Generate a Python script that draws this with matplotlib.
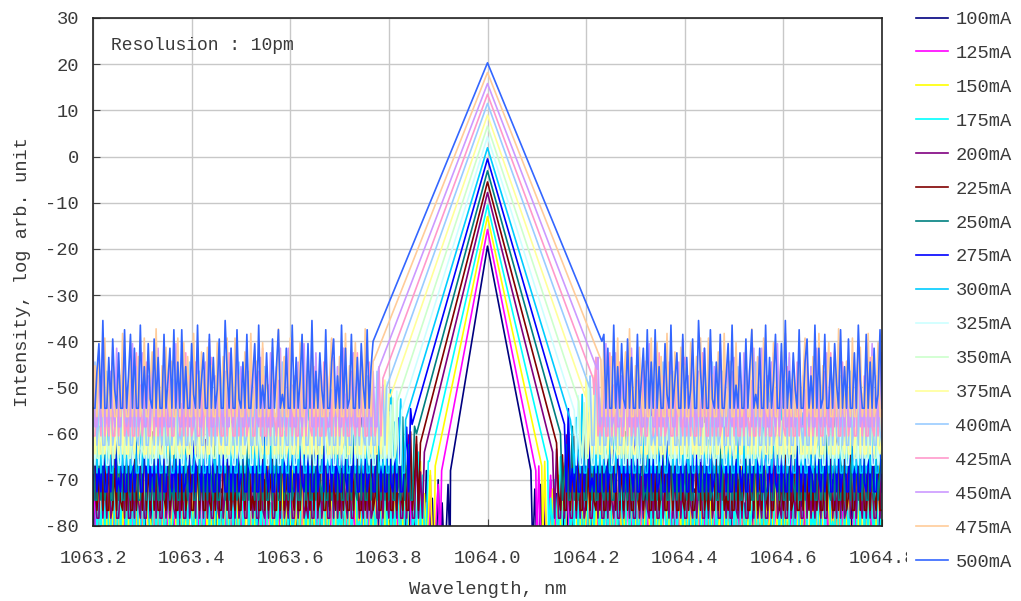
import numpy as np
import matplotlib
matplotlib.use("Agg")
import matplotlib.pyplot as plt
from matplotlib.patches import Rectangle

# ── Data ──────────────────────────────────────────────

currents = ["100mA", "125mA", "150mA", "175mA", "200mA", "225mA", "250mA", "275mA",
            "300mA", "325mA", "350mA", "375mA", "400mA", "425mA", "450mA", "475mA", "500mA"]
colors = ["#000080", "#ff00ff", "#ffff00", "#00ffff", "#800080", "#800000", "#008080", "#0000ff",
          "#00ccff", "#ccffff", "#ccffcc", "#ffff99", "#99ccff", "#ff99cc", "#cc99ff", "#ffcc99", "#3366ff"]

peak_nm = 1064.0
peak_db = [-19.4, -15.8, -13.0, -10.5, -7.8, -5.5, -3.1, -0.5,
           1.9, 4.3, 6.6, 9.0, 11.5, 13.5, 15.8, 18.2, 20.3]
# where each peak side meets the noise
left_nm = [1063.925, 1063.907, 1063.894, 1063.882, 1063.872, 1063.864, 1063.856, 1063.847,
           1063.834, 1063.826, 1063.817, 1063.803, 1063.795, 1063.788, 1063.779, 1063.770, 1063.768]
right_nm = [1064.088, 1064.098, 1064.110, 1064.122, 1064.132, 1064.140, 1064.148, 1064.156,
            1064.168, 1064.176, 1064.185, 1064.199, 1064.207, 1064.214, 1064.222, 1064.230, 1064.232]
foot_db = [-68, -68, -67, -66, -64, -62, -60, -58,
           -57, -55, -53, -52, -50, -48, -46, -44, -40]
# noise floor of each trace (lowest ones sit below the axis)
floor_db = [-86, -85, -84, -82, -78.3, -76.6, -74.4, -72.6,
            -68.5, -66.8, -65.3, -64.4, -62.5, -60.5, -58.5, -56.3, -54.5]

# noise spikes above the floor, dB
spike_pattern = [
    0, 17, 0, 9, 0, 0, 14, 3, 0, 18, 0, 6, 12, 0, 0, 16, 0, 11, 0, 4,
    15, 0, 0, 19, 8, 0, 13, 0, 0, 17, 2, 0, 10, 0, 16, 0, 0, 7, 14, 0,
    18, 0, 5, 0, 12, 0, 0, 15, 0, 9, 17, 0, 3, 0, 13, 0, 0, 18, 0, 11,
    0, 6, 16, 0, 0, 14, 0, 19, 0, 8, 0, 12, 4, 0, 17, 0, 0, 10, 15, 0,
    7, 0, 18, 0, 13, 0, 2, 16, 0, 0, 11, 0, 14, 5, 0, 17, 0, 9, 0, 15,
    0, 0, 12, 0, 18, 6, 0, 0, 16, 0, 10, 0, 13, 0, 3, 17, 0, 0, 8, 14,
    0, 19, 0, 0, 11, 0, 15, 4, 0, 12, 0, 0, 17, 0, 7, 16, 0, 13, 0, 0,
    18, 0, 9, 0, 14, 2, 0, 15, 0, 11, 0, 0, 16, 0, 6, 13, 0, 17, 0, 10,
]
pattern_shift = [0, 23, 51, 77, 104, 131, 12, 39, 66, 93, 120, 147, 8, 35, 62, 89, 116]

xticks = [1063.2, 1063.4, 1063.6, 1063.8, 1064.0, 1064.2, 1064.4, 1064.6, 1064.8]
yticks = [-80, -70, -60, -50, -40, -30, -20, -10, 0, 10, 20, 30]

# ── Style ──────────────────────────────────────────────

FONT = "Liberation Mono"
FS = 13.5
TXT = "#3a3a3a"
plt.rcParams.update({
    "font.family": FONT,
    "font.size": FS,
    "axes.unicode_minus": False,
    "text.color": TXT,
    "axes.labelcolor": TXT,
    "xtick.color": TXT,
    "ytick.color": TXT,
})

fig = plt.figure(figsize=(10.21, 6.01), dpi=100)
ax = fig.add_axes([93 / 1021, 75 / 601, 789 / 1021, 508 / 601])

wl_grid = np.round(1063.2 + 0.004 * np.arange(401), 3)
idx = np.arange(len(wl_grid))
pat = np.array(spike_pattern, dtype=float)

for i, name in enumerate(currents):
    lm = wl_grid < left_nm[i]
    rm = wl_grid > right_nm[i]
    yl = floor_db[i] + pat[(idx[lm] + pattern_shift[i]) % len(pat)]
    yr = floor_db[i] + pat[(idx[rm] + pattern_shift[i] + 80) % len(pat)]
    x = np.concatenate([wl_grid[lm], [left_nm[i], peak_nm, right_nm[i]], wl_grid[rm]])
    y = np.concatenate([yl, [foot_db[i], peak_db[i], foot_db[i]], yr])
    ax.plot(x, y, color=colors[i], lw=1.2, label=name)

ax.set_xlim(1063.2, 1064.8)
ax.set_ylim(-80, 30)
ax.set_xticks(xticks)
ax.set_xticklabels([f"{v:.1f}" for v in xticks])
ax.set_yticks(yticks)
ax.grid(True, color="#c8c8c8", lw=1)
ax.set_axisbelow(True)
ax.tick_params(axis="both", direction="in", length=5, color="#444444")
ax.tick_params(axis="x", pad=17)
ax.tick_params(axis="y", pad=10)
for s in ax.spines.values():
    s.set_color("#222222")
    s.set_linewidth(1.2)

ax.set_xlabel("Wavelength, nm", labelpad=10)
ax.set_ylabel("Intensity, log arb. unit", labelpad=10)
ax.text(0.023, 0.945, "Resolusion : 10pm", transform=ax.transAxes, fontsize=FS - 0.5, va="center")

# legend strip covers the last x tick label, as in the original
fig.patches.append(Rectangle((907 / 1021, 0), 1, 1, transform=fig.transFigure,
                             facecolor="white", edgecolor="none", zorder=1))
fig.legend(loc="upper left", bbox_to_anchor=(916 / 1021, 590 / 601), frameon=False,
           borderpad=0, borderaxespad=0, handlelength=1.7, handletextpad=0.4,
           labelspacing=0.895, fontsize=FS)

fig.savefig("out.png", dpi=100)
